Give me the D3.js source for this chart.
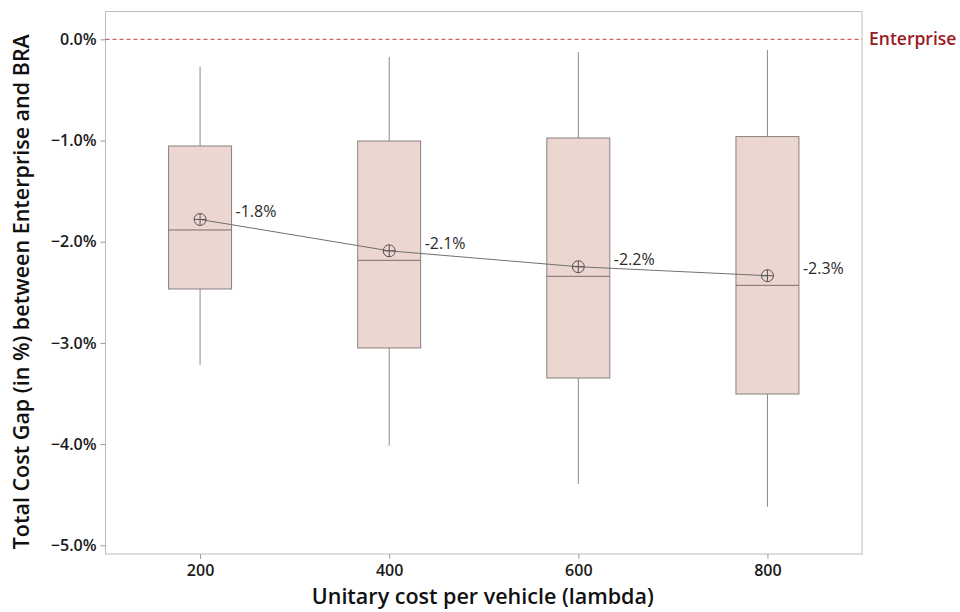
<!DOCTYPE html>
<html>
<head>
<meta charset="utf-8">
<script src="https://cdn.jsdelivr.net/npm/d3@7"></script>
<style>
  html, body { margin: 0; padding: 0; background: #fff; }
  svg { display: block; font-family: "Open Sans", "Noto Sans", sans-serif; }
</style>
</head>
<body>
<svg id="chart" width="960" height="612"></svg>
<script>
// Unitary cost levels (lambda)
const lambdas = [200, 400, 600, 800];
// Box-plot statistics of the cost gap, in percent
const whiskerHigh = [-0.27, -0.175, -0.125, -0.106];
const q3 = [-1.054, -1.005, -0.975, -0.961];
const medians = [-1.884, -2.184, -2.342, -2.431];
const q1 = [-2.467, -3.05, -3.347, -3.505];
const whiskerLow = [-3.217, -4.016, -4.394, -4.619];
const means = [-1.78, -2.09, -2.247, -2.336];
const meanLabels = ["-1.8%", "-2.1%", "-2.2%", "-2.3%"];
// Axis ticks
const yTicks = [0, -1, -2, -3, -4, -5];
const xTicks = [200, 400, 600, 800];
const referenceValue = 0;
const referenceLabel = "Enterprise";

const FONT = '"Open Sans", "Noto Sans", sans-serif';
const svg = d3.select("#chart");
const plot = { left: 105.5, right: 862, top: 11.5, bottom: 554 };

const x = d3.scaleLinear().domain([100, 900]).range([plot.left, plot.right]);
const y = d3.scaleLinear().domain([0.275, -5.086]).range([plot.top, plot.bottom]);
const boxHalf = 33.3; // half box width in lambda units

const rows = lambdas.map((l, i) => ({
  l, hi: whiskerHigh[i], q3: q3[i], med: medians[i], q1: q1[i], lo: whiskerLow[i],
  mean: means[i], label: meanLabels[i]
}));

// Plot frame
svg.append("rect")
  .attr("x", plot.left).attr("y", plot.top)
  .attr("width", plot.right - plot.left).attr("height", plot.bottom - plot.top)
  .attr("fill", "none").attr("stroke", "#bdbdbd").attr("stroke-width", 1);

// Y axis
const yAxis = svg.append("g")
  .attr("transform", `translate(${plot.left},0)`)
  .call(d3.axisLeft(y).tickValues(yTicks).tickSize(5).tickPadding(4)
    .tickFormat(d => d3.format(".1f")(d) + "%"))
  .attr("font-family", FONT).attr("font-size", 16);
yAxis.select(".domain").remove();
yAxis.selectAll(".tick line").attr("stroke", "#9a9a9a");
yAxis.selectAll(".tick text")
  .attr("fill", "#1a1a1a").style("font-weight", 600);

// X axis
const xAxis = svg.append("g")
  .attr("transform", `translate(0,${plot.bottom})`)
  .call(d3.axisBottom(x).tickValues(xTicks).tickSize(5).tickPadding(6)
    .tickFormat(d3.format("d")))
  .attr("font-family", FONT).attr("font-size", 16);
xAxis.select(".domain").remove();
xAxis.selectAll(".tick line").attr("stroke", "#9a9a9a");
xAxis.selectAll(".tick text")
  .attr("fill", "#1a1a1a").style("font-weight", 600);

// Reference line at 0%
svg.append("line")
  .attr("x1", plot.left).attr("x2", plot.right)
  .attr("y1", y(referenceValue)).attr("y2", y(referenceValue))
  .attr("stroke", "#c8423b").attr("stroke-width", 1).attr("stroke-dasharray", "4,3");
svg.append("text")
  .attr("x", plot.right + 7).attr("y", y(referenceValue))
  .attr("dy", "0.35em")
  .attr("fill", "#9b1c1f").style("font-size", "17.5px").style("font-weight", 600)
  .text(referenceLabel);

// Whiskers
const g = svg.append("g");
g.selectAll(".whisker-hi").data(rows).join("line")
  .attr("x1", d => x(d.l)).attr("x2", d => x(d.l))
  .attr("y1", d => y(d.hi)).attr("y2", d => y(d.q3))
  .attr("stroke", "#8a8a8a").attr("stroke-width", 1);
g.selectAll(".whisker-lo").data(rows).join("line")
  .attr("x1", d => x(d.l)).attr("x2", d => x(d.l))
  .attr("y1", d => y(d.q1)).attr("y2", d => y(d.lo))
  .attr("stroke", "#8a8a8a").attr("stroke-width", 1);

// Boxes
g.selectAll(".box").data(rows).join("rect")
  .attr("x", d => x(d.l - boxHalf)).attr("width", d => x(d.l + boxHalf) - x(d.l - boxHalf))
  .attr("y", d => y(d.q3)).attr("height", d => y(d.q1) - y(d.q3))
  .attr("fill", "#ecd6d0").attr("stroke", "#8a8080").attr("stroke-width", 1);

// Medians
g.selectAll(".median").data(rows).join("line")
  .attr("x1", d => x(d.l - boxHalf)).attr("x2", d => x(d.l + boxHalf))
  .attr("y1", d => y(d.med)).attr("y2", d => y(d.med))
  .attr("stroke", "#7a7070").attr("stroke-width", 1);

// Mean connection line
svg.append("path")
  .datum(rows)
  .attr("d", d3.line().x(d => x(d.l)).y(d => y(d.mean)))
  .attr("fill", "none").attr("stroke", "#707070").attr("stroke-width", 1);

// Mean symbols (circle with cross)
const r = 6;
const sym = svg.selectAll(".mean").data(rows).join("g")
  .attr("transform", d => `translate(${x(d.l)},${y(d.mean)})`);
sym.append("circle").attr("r", r).attr("fill", "none").attr("stroke", "#555").attr("stroke-width", 1);
sym.append("line").attr("x1", -r).attr("x2", r).attr("stroke", "#555").attr("stroke-width", 1);
sym.append("line").attr("y1", -r).attr("y2", r).attr("stroke", "#555").attr("stroke-width", 1);

// Mean labels
svg.selectAll(".mean-label").data(rows).join("text")
  .attr("x", d => x(d.l + boxHalf) + 4)
  .attr("y", d => y(d.mean) - 2)
  .attr("fill", "#2a2a2a").style("font-size", "16px")
  .text(d => d.label);

// Axis titles
svg.append("text")
  .attr("x", (plot.left + plot.right) / 2 - 1).attr("y", 604)
  .attr("text-anchor", "middle")
  .attr("fill", "#111").style("font-size", "21.5px").style("font-weight", 600)
  .text("Unitary cost per vehicle (lambda)");
svg.append("text")
  .attr("transform", `translate(29,${(plot.top + plot.bottom) / 2 + 9}) rotate(-90)`)
  .attr("text-anchor", "middle")
  .attr("fill", "#111").style("font-size", "21.5px").style("font-weight", 600)
  .text("Total Cost Gap (in %) between Enterprise and BRA");
</script>
</body>
</html>
